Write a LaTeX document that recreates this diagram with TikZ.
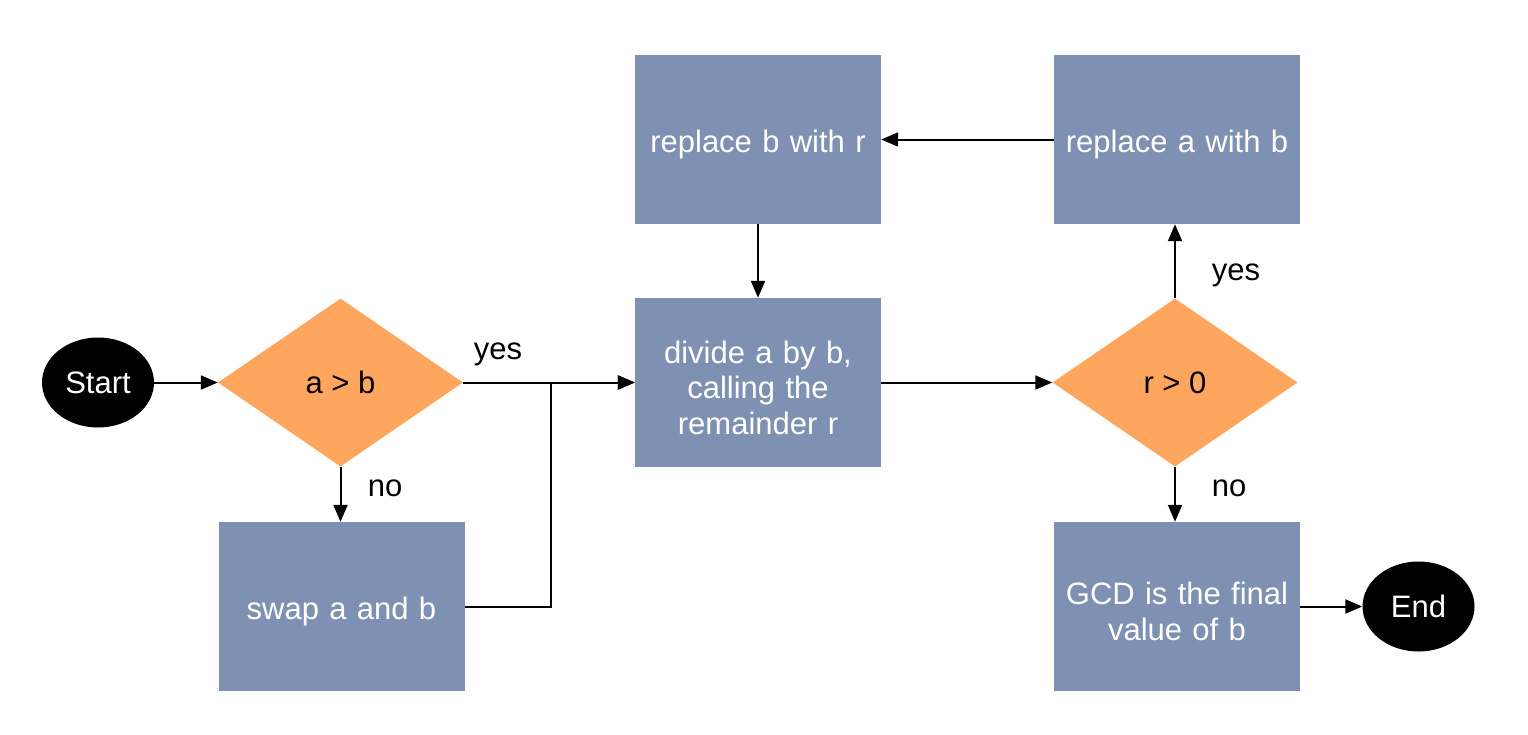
\documentclass[tikz,border=0pt]{standalone}
\usepackage{fontspec}
\setmainfont{Liberation Sans}
\usetikzlibrary{shapes.geometric,arrows.meta,calc}
\definecolor{boxc}{RGB}{127,145,179}
\definecolor{diac}{RGB}{255,166,94}
\begin{document}
\begin{tikzpicture}[x=1pt,y=-1pt,
  every node/.style={font=\fontsize{31}{35.5}\selectfont},
  boxtext/.style={text=white,text width=244pt,align=center,inner sep=0pt,yshift=-5pt},
  procbox/.style={rectangle,fill=boxc,minimum width=246pt,minimum height=169pt,inner sep=0pt},
  decision/.style={diamond,fill=diac,text=black,minimum width=245pt,minimum height=168pt,aspect=1.46,inner sep=0pt},
  terminal/.style={ellipse,fill=black,text=white,minimum width=112pt,minimum height=90pt,inner sep=0pt},
  arr/.style={draw=black,line width=2pt,-{Triangle[length=17pt,width=14pt]}},
  lbl/.style={text=black}]
\useasboundingbox (0,0) rectangle (1528,734);
\node[terminal] (start) at (98,382.5) {Start};
\node[decision] (d1) at (340.5,382.5) {a > b};
\node[procbox,label={[boxtext]center:{swap a and b}}] (swap) at (341.5,606.5) {};
\node[procbox,label={[boxtext]center:{divide a by b,\\calling the\\remainder r}}] (divide) at (758,382.5) {};
\node[procbox,label={[boxtext]center:{replace b with r}}] (repb) at (758,139.5) {};
\node[procbox,label={[boxtext]center:{replace a with b}}] (repa) at (1177,139.5) {};
\node[decision] (d2) at (1175,382.5) {r > 0};
\node[procbox,label={[boxtext]center:{GCD is the final\\value of b}}] (gcd) at (1177,606.5) {};
\node[terminal] (end) at (1418.5,606.5) {End};
\coordinate (m) at (551,382.5);

\draw[arr] (start) -- (d1);
\draw[arr] (d1.east) -- (divide.west);
\draw[arr] (swap.east) -| (m) -- (divide.west);
\draw[arr] (d1.south) -- (d1.south |- swap.north);
\draw[arr] (divide.east) -- (d2.west);
\draw[arr] (d2.north) -- (d2.north |- repa.south);
\draw[arr] (repa.west) -- (repb.east);
\draw[arr] (repb.south) -- (divide.north);
\draw[arr] (d2.south) -- (d2.south |- gcd.north);
\draw[arr] (gcd.east) -- (end.west);

\node[lbl] (l1) at (498,354) {yes};
\node[lbl] (l2) at (385,488) {no};
\node[lbl] (l3) at (1236,275) {yes};
\node[lbl] (l4) at (1229,488) {no};
\end{tikzpicture}
\end{document}
